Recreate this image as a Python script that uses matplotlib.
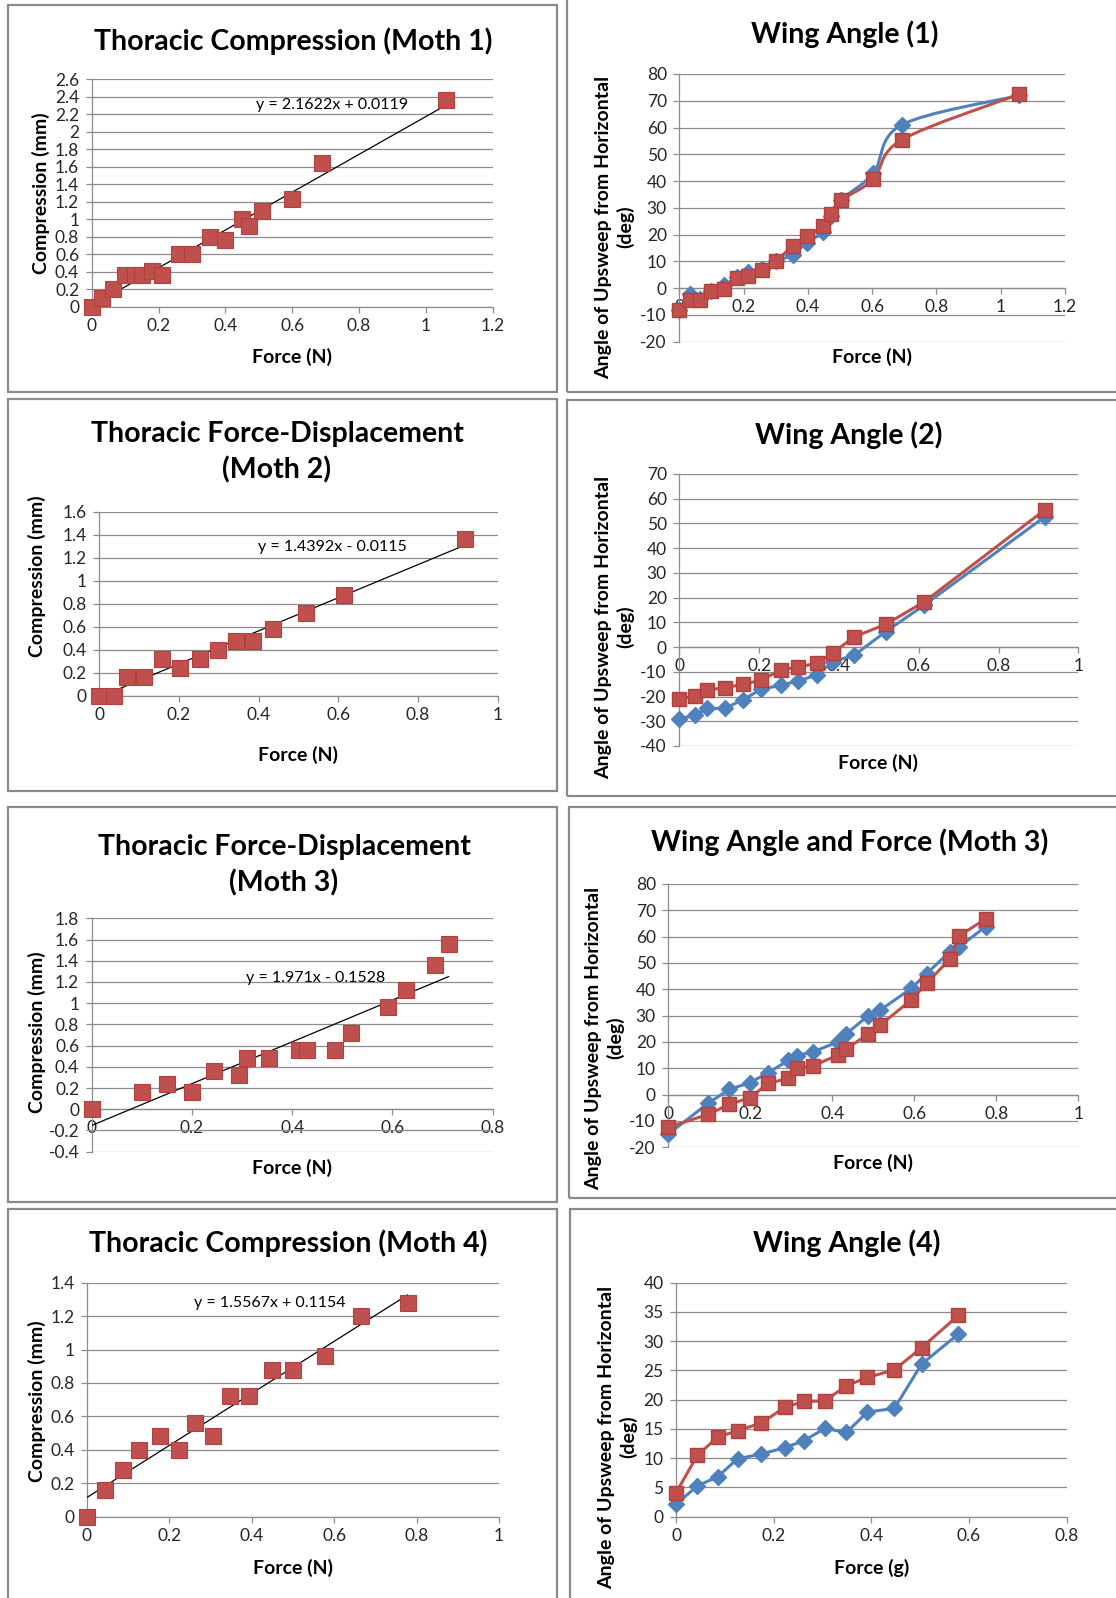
import numpy as np
import matplotlib
matplotlib.use("Agg")
import matplotlib.pyplot as plt
from matplotlib.path import Path
from matplotlib.patches import PathPatch, Rectangle
from matplotlib.ticker import MultipleLocator, FuncFormatter

W, H = 1116, 1598
plt.rcParams['font.family'] = ['Lato', 'DejaVu Sans']

RED = '#C0504D'
RED_EDGE = '#B2403D'
BLUE = '#4F81BD'
GRID = '#8C8C8C'
TXT = '#262626'

# ---- Moth 1 ----
m1_force = [0, 0.03, 0.065, 0.10, 0.13, 0.15, 0.18, 0.21, 0.26, 0.30, 0.355, 0.40,
            0.45, 0.47, 0.51, 0.60, 0.69, 1.06]
m1_comp = [0, 0.1, 0.2, 0.36, 0.36, 0.36, 0.41, 0.36, 0.6, 0.6, 0.8, 0.76,
           1.0, 0.92, 1.09, 1.23, 1.64, 2.36]
m1_fit = (2.1622, 0.0119)

wa1_force = [0, 0.033, 0.064, 0.10, 0.14, 0.178, 0.213, 0.256, 0.30, 0.353, 0.396,
             0.448, 0.471, 0.503, 0.604, 0.692, 1.058]
wa1_red = [-8, -4.4, -4.4, -1, -0.3, 3.7, 4.4, 6.6, 10, 15.8, 19.3, 23.3, 27.8,
           32.8, 40.7, 55.4, 72.5]
wa1_blue = [-8, -2, -4, -1, 1, 4, 6, 7, 10, 12.5, 17, 21, 27, 33, 43, 61, 72]

# ---- Moth 2 ----
m2_force = [0, 0.038, 0.069, 0.113, 0.158, 0.203, 0.253, 0.299, 0.342, 0.387,
            0.437, 0.519, 0.614, 0.918]
m2_comp = [0, 0, 0.16, 0.16, 0.32, 0.24, 0.32, 0.40, 0.48, 0.48, 0.58, 0.72, 0.88, 1.36]
m2_fit = (1.4392, -0.0115)

wa2_force = [0, 0.039, 0.069, 0.114, 0.160, 0.205, 0.255, 0.298, 0.344, 0.386,
             0.439, 0.517, 0.614, 0.916]
wa2_red = [-21, -19.8, -17.4, -16.4, -15.1, -13.3, -9.3, -8, -6.6, -2.2, 4.2, 9.2,
           18.3, 55.5]
wa2_blue = [-29, -27.6, -24.8, -24.8, -21.2, -17.1, -15.4, -13.7, -11.3, -5.9,
            -3.2, 6.2, 17, 52.7]

# ---- Moth 3 ----
m3_force = [0, 0.10, 0.15, 0.20, 0.243, 0.293, 0.31, 0.354, 0.414, 0.429, 0.485,
            0.517, 0.592, 0.628, 0.685, 0.712]
m3_comp = [0, 0.16, 0.24, 0.16, 0.36, 0.32, 0.48, 0.48, 0.56, 0.56, 0.56, 0.72,
           0.96, 1.12, 1.36, 1.56]
m3_fit = (1.971, -0.1528)

wa3_force = [0, 0.097, 0.149, 0.20, 0.244, 0.293, 0.313, 0.354, 0.413, 0.433, 0.488,
             0.516, 0.593, 0.63, 0.687, 0.71, 0.774]
wa3_red = [-12.4, -7.5, -3.7, -1.1, 4.3, 6.2, 10, 11, 15, 17.3, 23, 26.3, 36, 42.3,
           51.5, 60.4, 66.7]
wa3_blue = [-15, -3.3, 2, 4.6, 8.4, 13, 14.8, 16.3, 20, 23, 30, 32, 40.4, 46, 54.3,
            56.2, 63.8]

# ---- Moth 4 ----
m4_force = [0, 0.044, 0.087, 0.125, 0.176, 0.224, 0.262, 0.305, 0.347, 0.392, 0.448,
            0.501, 0.578, 0.664, 0.778]
m4_comp = [0, 0.16, 0.28, 0.40, 0.48, 0.40, 0.56, 0.48, 0.72, 0.72, 0.88, 0.88,
           0.96, 1.20, 1.28]
m4_fit = (1.5567, 0.1154)

wa4_force = [0, 0.044, 0.085, 0.126, 0.174, 0.223, 0.262, 0.305, 0.349, 0.392, 0.447,
             0.503, 0.578]
wa4_red = [4.1, 10.5, 13.6, 14.7, 16, 18.7, 19.7, 19.8, 22.4, 23.8, 25.1, 28.9, 34.4]
wa4_blue = [2.1, 5.3, 6.8, 9.9, 10.7, 11.8, 13, 15.1, 14.4, 17.9, 18.5, 26.1, 31.2]

fig = plt.figure(figsize=(W / 100, H / 100), dpi=100)


def fx(x):
    return x / W


def fy(y):
    return 1 - y / H


def frame(x0, y0, x1, y1):
    fig.patches.append(Rectangle((fx(x0), fy(y1)), fx(x1 - x0), (y1 - y0) / H,
                                 transform=fig.transFigure, fill=False,
                                 ec='#8A8A8A', lw=1.6))


def make_axes(x0, x1, ytop, ybot, xlim, ylim, xstep, ystep, cross_zero=False):
    ax = fig.add_axes([fx(x0), fy(ybot), fx(x1 - x0), (ybot - ytop) / H])
    ax.set_xlim(*xlim)
    ax.set_ylim(*ylim)
    ax.xaxis.set_major_locator(MultipleLocator(xstep))
    ax.yaxis.set_major_locator(MultipleLocator(ystep))
    fmt = FuncFormatter(lambda v, p: '%g' % round(v, 3))
    ax.xaxis.set_major_formatter(fmt)
    ax.yaxis.set_major_formatter(fmt)
    ax.grid(axis='y', color=GRID, lw=0.9)
    ax.set_axisbelow(True)
    for s in ['top', 'right']:
        ax.spines[s].set_visible(False)
    for s in ['left', 'bottom']:
        ax.spines[s].set_color(GRID)
        ax.spines[s].set_linewidth(0.9)
    if cross_zero:
        ax.spines['bottom'].set_position(('data', 0))
    ax.tick_params(axis='both', colors=GRID, labelcolor=TXT, labelsize=12.5,
                   length=4, width=0.9, direction='out')
    ax.tick_params(axis='y', pad=5)
    ax.tick_params(axis='x', pad=4)
    ax.patch.set_alpha(0)
    return ax


def smooth_path(x, y):
    pts = np.column_stack([x, y]).astype(float)
    n = len(pts)
    verts = [pts[0]]
    codes = [Path.MOVETO]
    for i in range(n - 1):
        p0 = pts[max(i - 1, 0)]
        p1 = pts[i]
        p2 = pts[i + 1]
        p3 = pts[min(i + 2, n - 1)]
        verts += [p1 + (p2 - p0) / 6, p2 - (p3 - p1) / 6, p2]
        codes += [Path.CURVE4] * 3
    return Path(verts, codes)


def scatter_fit(ax, xs, ys, fit, eq, eq_pos):
    k, b = fit
    xl = np.array([0, max(xs)])
    ax.plot(xl, k * xl + b, color='black', lw=0.9, zorder=3)
    ax.plot(xs, ys, ls='none', marker='s', ms=11.5, mfc=RED, mec=RED_EDGE,
            mew=0.8, zorder=4, clip_on=False)
    ax.text(eq_pos[0], eq_pos[1], eq, fontsize=11.5, color='black',
            ha='center', va='center', zorder=5)


def two_series(ax, xs, red, blue, smooth=False):
    if smooth:
        ax.add_patch(PathPatch(smooth_path(xs, blue), fill=False, ec=BLUE, lw=2.2, zorder=3))
        ax.add_patch(PathPatch(smooth_path(xs, red), fill=False, ec=RED, lw=2.2, zorder=3))
        ax.plot(xs, blue, ls='none', marker='D', ms=8, color=BLUE, zorder=4, clip_on=False)
        ax.plot(xs, red, ls='none', marker='s', ms=10.5, mfc=RED, mec=RED_EDGE, zorder=5,
                clip_on=False)
    else:
        ax.plot(xs, blue, color=BLUE, lw=2.2, marker='D', ms=8, zorder=4, clip_on=False)
        ax.plot(xs, red, color=RED, lw=2.2, marker='s', ms=10.5, mec=RED_EDGE, zorder=5,
                clip_on=False)


def title(x, y, s):
    fig.text(fx(x), fy(y), s, ha='center', va='center', fontsize=20.5,
             fontweight='bold', color='black', linespacing=1.4)


def xlabel(x, y, s):
    fig.text(fx(x), fy(y), s, ha='center', va='center', fontsize=14,
             fontweight='bold', color='black')


def ylabel(x, y, s):
    fig.text(fx(x), fy(y), s, ha='center', va='center', fontsize=14,
             fontweight='bold', color='black', rotation=90, linespacing=1.25)


ANGLE = 'Angle of Upsweep from Horizontal\n(deg)'

# frames
frame(8, 5, 557, 392)
frame(567, -2, 1120, 392)
frame(8, 399, 557, 791)
frame(567, 400, 1120, 796)
frame(8, 807, 557, 1202)
frame(569, 807, 1120, 1198)
frame(8, 1209, 557, 1602)
frame(570, 1209, 1120, 1602)

# panel 1
ax = make_axes(91.7, 492.7, 79.3, 306.7, (0, 1.2), (0, 2.6), 0.2, 0.2)
scatter_fit(ax, m1_force, m1_comp, m1_fit, 'y = 2.1622x + 0.0119', (0.72, 2.31))
title(293, 41, 'Thoracic Compression (Moth 1)')
xlabel(292, 357, 'Force (N)')
ylabel(41, 193, 'Compression (mm)')

# panel 2
ax = make_axes(679.3, 1065, 74, 341.7, (0, 1.2), (-20, 80), 0.2, 10, cross_zero=True)
two_series(ax, wa1_force, wa1_red, wa1_blue, smooth=True)
title(845, 34, 'Wing Angle (1)')
xlabel(872, 357, 'Force (N)')
ylabel(615, 227, ANGLE)

# panel 3
ax = make_axes(99.3, 497.7, 511.7, 695.7, (0, 1), (0, 1.6), 0.2, 0.2)
scatter_fit(ax, m2_force, m2_comp, m2_fit, 'y = 1.4392x - 0.0115', (0.584, 1.296))
title(277, 452, 'Thoracic Force-Displacement\n(Moth 2)')
xlabel(298, 755, 'Force (N)')
ylabel(37, 576, 'Compression (mm)')

# panel 4
ax = make_axes(679.3, 1078.3, 474, 746, (0, 1), (-40, 70), 0.2, 10, cross_zero=True)
two_series(ax, wa2_force, wa2_red, wa2_blue)
title(849, 435, 'Wing Angle (2)')
xlabel(878, 763, 'Force (N)')
ylabel(615, 627, ANGLE)

# panel 5
ax = make_axes(91.7, 492.7, 918.3, 1151.7, (0, 0.8), (-0.4, 1.8), 0.2, 0.2, cross_zero=True)
scatter_fit(ax, m3_force, m3_comp, m3_fit, 'y = 1.971x - 0.1528', (0.4475, 1.235))
title(284, 865, 'Thoracic Force-Displacement\n(Moth 3)')
xlabel(292, 1168, 'Force (N)')
ylabel(37, 1032, 'Compression (mm)')

# panel 6
ax = make_axes(668.3, 1078.3, 884, 1147.3, (0, 1), (-20, 80), 0.2, 10, cross_zero=True)
two_series(ax, wa3_force, wa3_red, wa3_blue)
title(850, 842, 'Wing Angle and Force (Moth 3)')
xlabel(873, 1163, 'Force (N)')
ylabel(605, 1038, ANGLE)

# panel 7
ax = make_axes(87, 499, 1282.7, 1516.7, (0, 1), (0, 1.4), 0.2, 0.2)
scatter_fit(ax, m4_force, m4_comp, m4_fit, 'y = 1.5567x + 0.1154', (0.444, 1.28))
title(288, 1243, 'Thoracic Compression (Moth 4)')
xlabel(293, 1568, 'Force (N)')
ylabel(37, 1401, 'Compression (mm)')

# panel 8
ax = make_axes(676, 1066.7, 1282.7, 1516.7, (0, 0.8), (0, 40), 0.2, 5)
two_series(ax, wa4_force, wa4_red, wa4_blue)
title(847, 1243, 'Wing Angle (4)')
xlabel(872, 1568, 'Force (g)')
ylabel(618, 1437, ANGLE)

fig.savefig('out.png', dpi=100)
